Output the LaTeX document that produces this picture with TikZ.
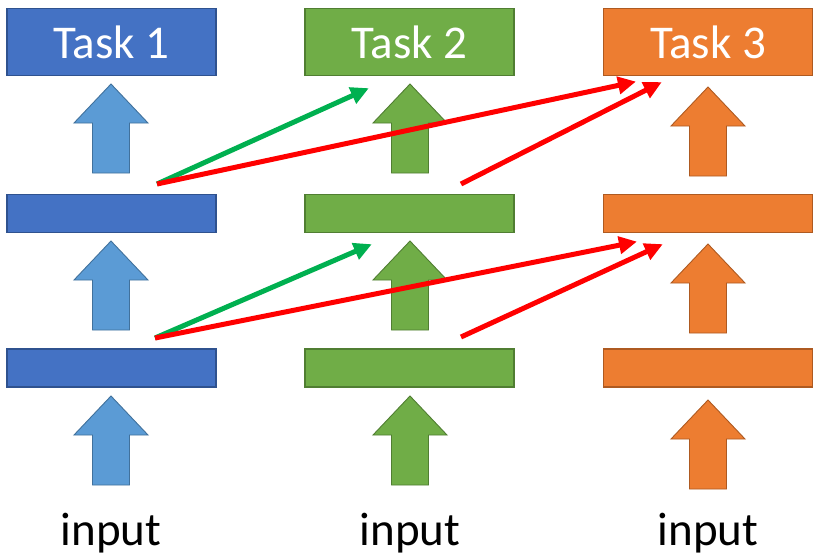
\documentclass[tikz,border=0pt]{standalone}
\usepackage{fontspec}
\setmainfont{Carlito}
\usetikzlibrary{arrows.meta}
\definecolor{bluebox}{HTML}{4472C4}
\definecolor{blueedge}{HTML}{2F528F}
\definecolor{bluearr}{HTML}{5B9BD5}
\definecolor{bluearredge}{HTML}{41719C}
\definecolor{greenbox}{HTML}{70AD47}
\definecolor{greenedge}{HTML}{507E32}
\definecolor{orangebox}{HTML}{ED7D31}
\definecolor{orangeedge}{HTML}{AE5A21}
\definecolor{linkgreen}{HTML}{00B050}
\definecolor{linkred}{HTML}{FF0000}
\begin{document}
\begin{tikzpicture}[x=1pt,y=-1pt,
  taskbox/.style={minimum width=209pt,minimum height=67pt,inner sep=0pt,line width=1.2pt,text=white,font=\fontsize{47}{47}\selectfont},
  layerbox/.style={minimum width=209pt,minimum height=38pt,inner sep=0pt,line width=1.2pt},
  bluestyle/.style={fill=bluebox,draw=blueedge},
  greenstyle/.style={fill=greenbox,draw=greenedge},
  orangestyle/.style={fill=orangebox,draw=orangeedge},
  barrow/.style={line width=0.9pt,line join=miter},
  link/.style={line width=5pt,-{Triangle[length=18pt,width=17pt]},shorten >=-2pt},
  inputlabel/.style={font=\fontsize{47}{47}\selectfont,inner sep=0pt}
]
\useasboundingbox (0,0) rectangle (820,558);
% block arrows: center x, tip y
\newcommand\myuparrow[4]{% #1 x, #2 tip y, #3 fill, #4 draw
  \draw[barrow,fill=#3,draw=#4] (#1,#2) -- ++(37,39) -- ++(-18.5,0) -- ++(0,50) -- ++(-37,0) -- ++(0,-50) -- ++(-18.5,0) -- cycle;}
\myuparrow{111}{84}{bluearr}{bluearredge}
\myuparrow{111}{241}{bluearr}{bluearredge}
\myuparrow{111}{396}{bluearr}{bluearredge}
\myuparrow{410}{84}{greenbox}{greenedge}
\myuparrow{410}{241}{greenbox}{greenedge}
\myuparrow{410}{396}{greenbox}{greenedge}
\myuparrow{708}{87}{orangebox}{orangeedge}
\myuparrow{708}{244}{orangebox}{orangeedge}
\myuparrow{708}{400}{orangebox}{orangeedge}
% task boxes
\node[taskbox,bluestyle] (t1) at (111.5,42) {Task 1};
\node[taskbox,greenstyle] (t2) at (409.5,42) {Task 2};
\node[taskbox,orangestyle] (t3) at (708,42) {Task 3};
% layers
\node[layerbox,bluestyle] (b2) at (111.5,213.5) {};
\node[layerbox,greenstyle] (g2) at (409.5,213.5) {};
\node[layerbox,orangestyle] (o2) at (708,213.5) {};
\node[layerbox,bluestyle] (b1) at (111.5,368) {};
\node[layerbox,greenstyle] (g1) at (409.5,368) {};
\node[layerbox,orangestyle] (o1) at (708,368) {};
% inputs
\node[inputlabel] (i1) at (111,533) {input};
\node[inputlabel] (i2) at (410,533) {input};
\node[inputlabel] (i3) at (708,533) {input};
% connector end points
\coordinate (s1) at (157,184);
\coordinate (s2) at (461,184);
\coordinate (s3) at (155,338);
\coordinate (s4) at (461,337);
\coordinate (e1) at (367,89);
\coordinate (e2) at (634,82);
\coordinate (e3) at (660,83);
\coordinate (e4) at (370,245);
\coordinate (e5) at (635,242);
\coordinate (e6) at (661,245);
% links
\draw[link,linkgreen] (s1) -- (e1);
\draw[link,linkred] (s1) -- (e2);
\draw[link,linkred] (s2) -- (e3);
\draw[link,linkgreen] (s3) -- (e4);
\draw[link,linkred] (s3) -- (e5);
\draw[link,linkred] (s4) -- (e6);
\end{tikzpicture}
\end{document}
